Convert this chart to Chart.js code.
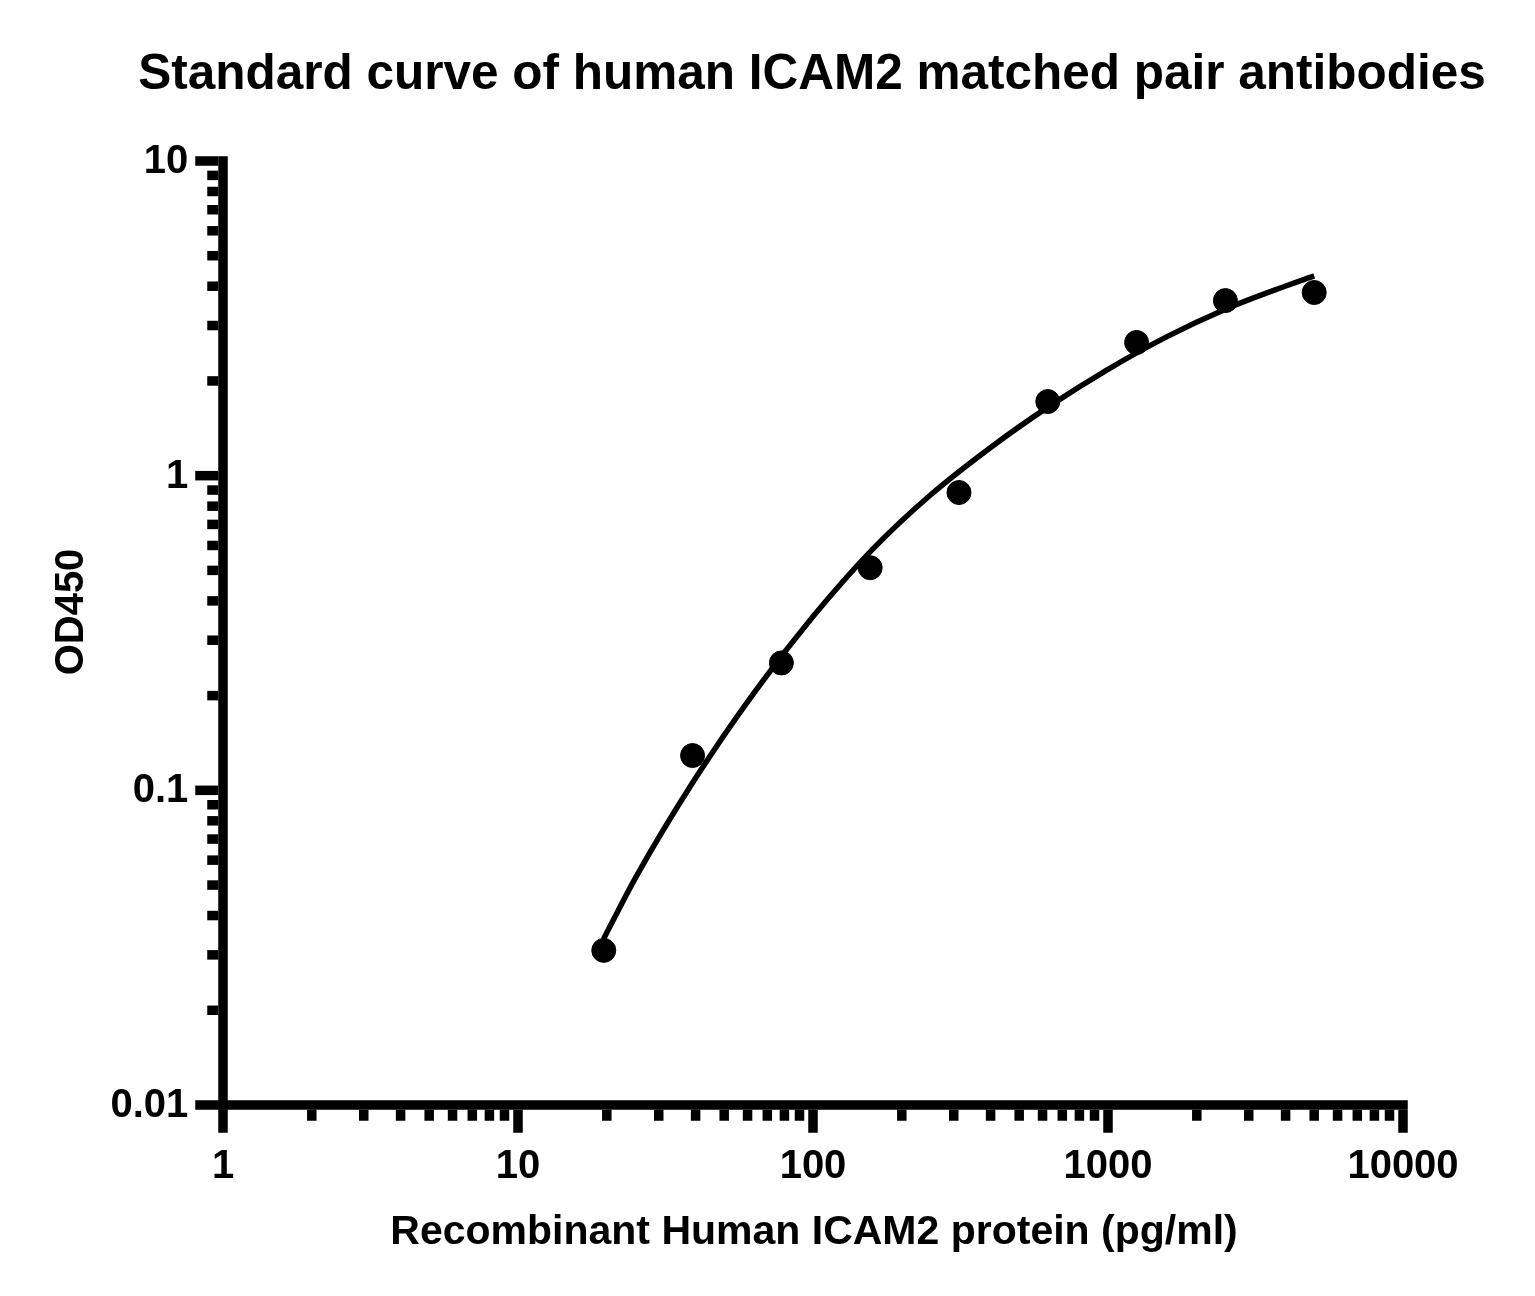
<!DOCTYPE html>
<html>
<head>
<meta charset="utf-8">
<script src="https://cdn.jsdelivr.net/npm/chart.js@4.4.1/dist/chart.umd.min.js"></script>
<style>
  html,body{margin:0;padding:0;background:#fff;}
  #wrap{width:1535px;height:1296px;}
</style>
</head>
<body>
<div id="wrap"><canvas id="stdCurve" width="1535" height="1296"></canvas></div>
<script>
// standard dilutions (pg/ml) and measured OD450
const concentrations = [19.53, 39.06, 78.13, 156.25, 312.5, 625, 1250, 2500, 5000];
const odValues = [0.031, 0.129, 0.254, 0.510, 0.884, 1.72, 2.65, 3.60, 3.82];

// fitted curve, points
const fitX = [19.5, 25.1, 39.8, 63.1, 100, 158.5, 251.2, 398.1, 631, 1000, 1585, 2512, 3981, 5000];
const fitY = [0.0337, 0.0530, 0.1086, 0.2042, 0.3565, 0.5808, 0.871, 1.225, 1.660, 2.178, 2.767, 3.388, 3.999, 4.315];

const xTickValues = [1, 10, 100, 1000, 10000];
const xTickLabels = ['1', '10', '100', '1000', '10000'];
const yTickValues = [0.01, 0.1, 1, 10];
const yTickLabels = ['0.01', '0.1', '1', '10'];

const chartTitle = 'Standard curve of human ICAM2 matched pair antibodies';
const xTitle = 'Recombinant Human ICAM2 protein (pg/ml)';
const yTitle = 'OD450';

const FONT = '"Liberation Sans", Arial, Helvetica, sans-serif';

// prism-style axes: thick lines, major/minor ticks outside
const axesPlugin = {
  id: 'prismAxes',
  beforeDatasetsDraw(chart){
    const ctx = chart.ctx, xs = chart.scales.x, ys = chart.scales.y;
    const { left, right, top, bottom } = chart.chartArea;
    const lw = 9.5, half = lw/2, minorLen = 11, majorLen = 23;
    ctx.save();
    ctx.fillStyle = '#000';
    ctx.fillRect(left - half, top - half, lw, bottom - top + lw);
    ctx.fillRect(left - half, bottom - half, right - left + lw, lw);

    yTickValues.forEach((v, i) => {
      const py = ys.getPixelForValue(v);
      ctx.fillRect(left - half - majorLen, py - half, majorLen, lw);
      if(i < yTickValues.length - 1){
        for(let m=2; m<=9; m++){
          const p = ys.getPixelForValue(v*m);
          ctx.fillRect(left - half - minorLen, p - half, minorLen, lw);
        }
      }
    });
    xTickValues.forEach((v, i) => {
      const px = xs.getPixelForValue(v);
      ctx.fillRect(px - half, bottom + half, lw, majorLen);
      if(i < xTickValues.length - 1){
        for(let m=2; m<=9; m++){
          const p = xs.getPixelForValue(v*m);
          ctx.fillRect(p - half, bottom + half, lw, minorLen);
        }
      }
    });

    // tick labels
    ctx.font = 'bold 40px ' + FONT;
    ctx.textAlign = 'right';
    ctx.textBaseline = 'middle';
    yTickValues.forEach((v, i) => {
      ctx.fillText(yTickLabels[i], left - half - majorLen - 7, ys.getPixelForValue(v) + 1);
    });
    ctx.textAlign = 'center';
    ctx.textBaseline = 'alphabetic';
    xTickValues.forEach((v, i) => {
      ctx.fillText(xTickLabels[i], xs.getPixelForValue(v), 1178);
    });

    // titles
    ctx.font = 'bold 49.5px ' + FONT;
    ctx.fillText(chartTitle, 812, 89);
    ctx.font = 'bold 41px ' + FONT;
    ctx.fillText(xTitle, 814, 1244);
    ctx.translate(83, 612);
    ctx.rotate(-Math.PI/2);
    ctx.font = 'bold 40px ' + FONT;
    ctx.fillText(yTitle, 0, 0);
    ctx.restore();
  }
};

new Chart(document.getElementById('stdCurve'), {
  type: 'scatter',
  data: {
    datasets: [
      {
        label: 'fit',
        data: fitX.map((x, i) => ({ x, y: fitY[i] })),
        showLine: true,
        borderColor: '#000',
        borderWidth: 5.5,
        pointRadius: 0,
        cubicInterpolationMode: 'monotone',
        clip: false,
        order: 2
      },
      {
        label: 'standards',
        data: concentrations.map((x, i) => ({ x, y: odValues[i] })),
        backgroundColor: '#000',
        borderColor: '#000',
        pointRadius: 12,
        pointHoverRadius: 12,
        clip: false,
        order: 1
      }
    ]
  },
  options: {
    responsive: false,
    animation: false,
    layout: { padding: { left: 223, right: 132, top: 161, bottom: 191 } },
    plugins: { legend: { display: false }, tooltip: { enabled: false }, title: { display: false } },
    scales: {
      x: { type: 'logarithmic', min: 1, max: 10000, display: false },
      y: { type: 'logarithmic', min: 0.01, max: 10, display: false }
    }
  },
  plugins: [axesPlugin]
});
</script>
</body>
</html>
